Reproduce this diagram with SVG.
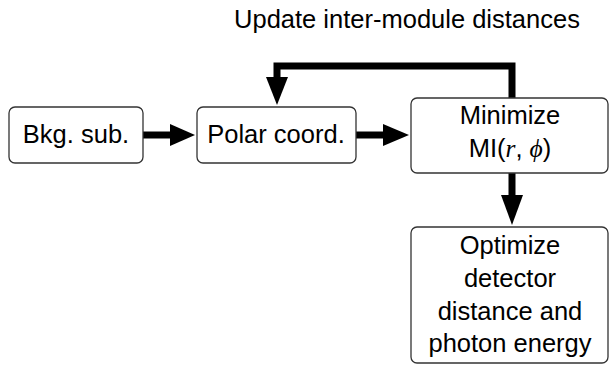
<svg xmlns="http://www.w3.org/2000/svg" width="610" height="365" viewBox="0 0 610 365">
<defs>
<style>
.box{fill:#fff;stroke:#333;stroke-width:1.3}
.t{font-family:"Liberation Sans",Arial,sans-serif;font-size:25.5px;fill:#000;text-anchor:middle}
.c{fill:none;stroke:#000;stroke-width:7}
.h{fill:#000;stroke:none}
.m{font-family:"Liberation Serif","DejaVu Serif",serif;font-style:italic}
</style>
</defs>
<text class="t" x="407" y="28">Update inter-module distances</text>
<g id="connectors">
<line class="c" x1="143" y1="135" x2="172" y2="135"/>
<polygon class="h" points="170,124 195,135 170,146"/>
<line class="c" x1="356" y1="135" x2="385" y2="135"/>
<polygon class="h" points="383,124 409,135 383,146"/>
<polyline class="c" points="512,98 512,66 277,66 277,80"/>
<polygon class="h" points="266,77 288,77 277,105"/>
<line class="c" x1="512" y1="173" x2="512" y2="198"/>
<polygon class="h" points="501,195 523,195 512,225"/>
</g>
<g id="bkg">
<rect class="box" x="9" y="107" width="134" height="56" rx="6"/>
<text class="t" x="76" y="143">Bkg. sub.</text>
</g>
<g id="polar">
<rect class="box" x="197" y="107" width="159" height="56" rx="6"/>
<text class="t" x="276" y="143">Polar coord.</text>
</g>
<g id="minimize">
<rect class="box" x="411" y="98" width="197" height="75" rx="6"/>
<text class="t" x="510" y="124">Minimize</text>
<text class="t" x="510" y="157">MI(<tspan class="m">r</tspan>, <tspan class="m">ϕ</tspan>)</text>
</g>
<g id="optimize">
<rect class="box" x="411" y="227" width="197" height="136" rx="6"/>
<text class="t" x="510" y="254">Optimize</text>
<text class="t" x="510" y="287">detector</text>
<text class="t" x="510" y="320">distance and</text>
<text class="t" x="510" y="352">photon energy</text>
</g>
</svg>
